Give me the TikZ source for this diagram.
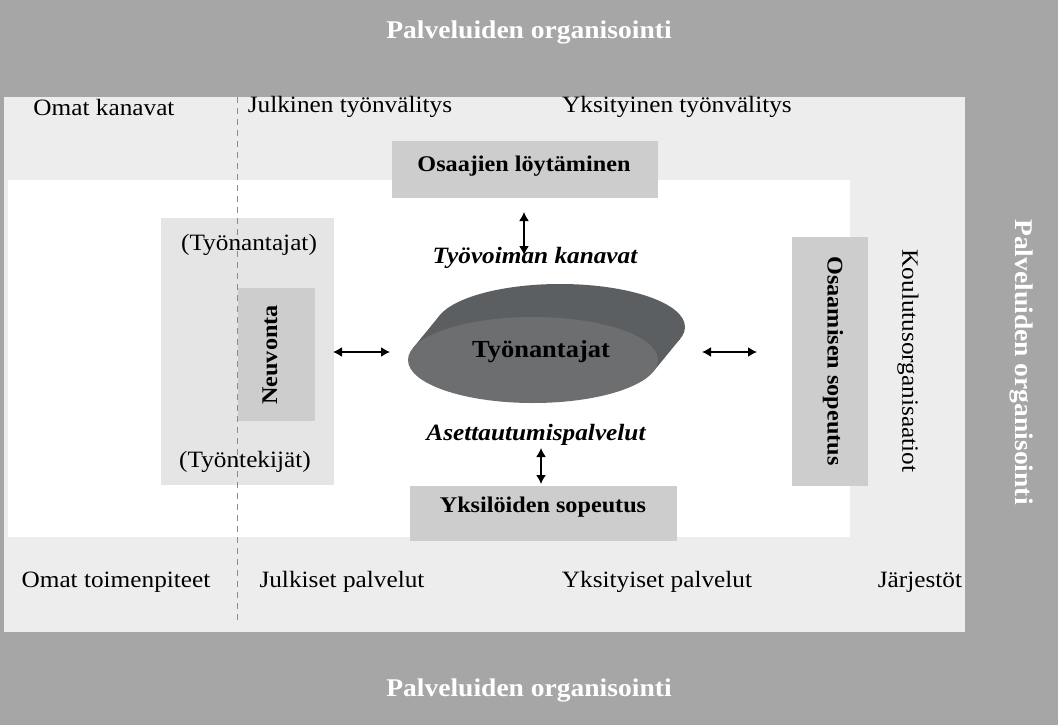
\documentclass[tikz,border=0pt]{standalone}
\usepackage{fontspec}
\setmainfont{Liberation Serif}[FakeStretch=1.08]
\usetikzlibrary{arrows.meta,shapes.geometric}
\definecolor{darkbg}{HTML}{A6A6A6}
\definecolor{lightbg}{HTML}{EDEDED}
\definecolor{panelgray}{HTML}{E5E5E5}
\definecolor{boxgray}{HTML}{CDCDCD}
\definecolor{diskfront}{HTML}{6C6E6F}
\definecolor{diskside}{HTML}{5B5F61}
\definecolor{dashgray}{HTML}{8C8C8C}
\begin{document}
\begin{tikzpicture}[x=1pt,y=-1pt,
  lbl/.style={font=\fontsize{23.4}{27}\selectfont, inner sep=0pt},
  boxlbl/.style={font=\fontsize{22.4}{26}\selectfont\bfseries, inner sep=0pt},
  itlbl/.style={font=\fontsize{23.4}{27}\selectfont\bfseries\itshape, inner sep=0pt},
  title/.style={font=\fontsize{25.5}{29}\selectfont\bfseries, text=white, inner sep=0pt},
  graybox/.style={fill=boxgray, draw=none, inner sep=0pt},
  dbl/.style={line width=1.5pt, {Latex[length=9pt,width=10pt]}-{Latex[length=9pt,width=10pt]}}
]
\useasboundingbox (0,0) rectangle (1058,725);
% backgrounds
\fill[darkbg] (0,0) rectangle (1058,725);
\fill[lightbg] (4,97) rectangle (965,632);
\fill[white] (8,180) rectangle (850,537);

% titles
\node[title] (ptop) at (529,32) {Palveluiden organisointi};
\node[title] (pbot) at (529,690) {Palveluiden organisointi};
\node[title, rotate=-90] (pright) at (1022,362) {Palveluiden organisointi};

% top labels
\node[lbl] (omatk) at (104,107) {Omat kanavat};
\node[lbl] (julk) at (350,107) {Julkinen työnvälitys};
\node[lbl] (yks) at (677,107) {Yksityinen työnvälitys};

% bottom labels
\node[lbl] (omatt) at (116,582) {Omat toimenpiteet};
\node[lbl] (julkp) at (342,582) {Julkiset palvelut};
\node[lbl] (yksp) at (657,582) {Yksityiset palvelut};
\node[lbl] (jarj) at (920,582) {Järjestöt};

% right label
\node[lbl, rotate=-90] (koul) at (908,361) {Koulutusorganisaatiot};

% left panel
\node[fill=panelgray, minimum width=173pt, minimum height=267pt, inner sep=0pt] (panel) at (247.5,351.5) {};
\node[graybox, rotate=90, minimum width=133pt, minimum height=77pt] (neuv) at (276.5,354.5) {};
\node[boxlbl, rotate=90] (neuvt) at (270,355) {Neuvonta};

% dashed divider
\draw[dashgray, line width=1pt, dash pattern=on 6pt off 5pt] (237,97) -- (237,622);

\node[lbl] (tyonant) at (249,245) {(Työnantajat)};
\node[lbl] (tyontek) at (245,462) {(Työntekijät)};

% boxes
\node[graybox, minimum width=266pt, minimum height=57pt] (osaajien) at (525,169.5) {};
\node[boxlbl] (osaajient) at (524,166) {Osaajien löytäminen};
\node[graybox, minimum width=267pt, minimum height=55pt] (yksil) at (543.5,513.5) {};
\node[boxlbl] (yksilt) at (543,507) {Yksilöiden sopeutus};
\node[graybox, rotate=-90, minimum width=249pt, minimum height=76pt] (osaam) at (830,361.5) {};
\node[boxlbl, rotate=-90] (osaamt) at (833,361) {Osaamisen sopeutus};

% disk
\fill[diskside] (560,327) ellipse [x radius=125pt, y radius=43pt];
\fill[diskside] (412.7,348.4) -- (439.7,315.4) -- (680.3,338.6) -- (653.3,371.6) -- cycle;
\node[ellipse, fill=diskfront, minimum width=250pt, minimum height=86pt, inner sep=0pt] (disk) at (533,360) {};
\node[font=\fontsize{24.5}{28}\selectfont\bfseries, inner sep=0pt] (tyonantajat) at (541,352) {Työnantajat};

% italic labels
\node[itlbl] (kanavat) at (535,258) {Työvoiman kanavat};
\node[itlbl] (asett) at (536,435) {Asettautumispalvelut};

% arrow endpoints
\coordinate (a1) at (524,212);
\coordinate (a2) at (524,255);
\coordinate (b1) at (333,352);
\coordinate (b2) at (390,352);
\coordinate (c1) at (702,352);
\coordinate (c2) at (757,352);
\coordinate (d1) at (541,448);
\coordinate (d2) at (541,484);
\draw[dbl] (a1) -- (a2);
\draw[dbl] (b1) -- (b2);
\draw[dbl] (c1) -- (c2);
\draw[dbl] (d1) -- (d2);
\end{tikzpicture}
\end{document}
